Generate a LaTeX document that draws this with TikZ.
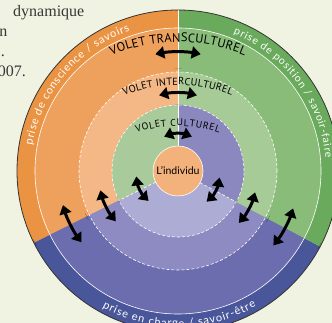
\documentclass[tikz,border=0pt]{standalone}
\usepackage{fontspec}
\setmainfont{Liberation Serif}
\newfontfamily\lato{Lato}
\newfontfamily\ptsans{PT Sans}
\usetikzlibrary{arrows.meta,decorations.text,calc}
\definecolor{bg}{RGB}{241,243,226}
\definecolor{bandO}{RGB}{234,147,67}
\definecolor{transO}{RGB}{238,161,93}
\definecolor{interO}{RGB}{243,184,134}
\definecolor{bandG}{RGB}{106,170,93}
\definecolor{transG}{RGB}{137,188,121}
\definecolor{interG}{RGB}{167,203,151}
\definecolor{cultG}{RGB}{169,202,155}
\definecolor{bandB}{RGB}{74,86,154}
\definecolor{transB}{RGB}{108,109,174}
\definecolor{interB}{RGB}{141,139,194}
\definecolor{cultP}{RGB}{139,136,191}
\definecolor{cultL}{RGB}{173,172,212}
\definecolor{indiv}{RGB}{243,178,124}
\definecolor{pagetext}{RGB}{55,55,55}
\newcommand\ringsector[4]{\fill[#1] (C) -- ($(C)+(#2:#4)$) arc[start angle=#2, end angle=#3, radius=#4] -- cycle;}
\tikzset{
  dblarrow/.style={line width=3pt, {Triangle[length=9pt,width=12pt]}-{Triangle[length=9pt,width=12pt]}},
  ringline/.style={white, line width=0.6pt},
  ringdash/.style={white, line width=0.6pt, dash pattern=on 3pt off 2pt},
  pagefont/.style={font=\fontsize{16}{18}\selectfont, text=pagetext, inner sep=0pt},
}
\begin{document}
\begin{tikzpicture}
\useasboundingbox (0,0) rectangle (332pt,323pt);
\fill[bg] (0,0) rectangle (332pt,323pt);
\coordinate (C) at (178pt,152pt);

% page text fragments
\node[pagefont, anchor=base west] (p1) at (13pt,306pt) {dynamique};
\node[pagefont, anchor=base east] (p2) at (7.5pt,286pt) {n};
\node[pagefont, anchor=base east] (p3) at (5pt,266pt) {.};
\node[pagefont, anchor=base east] (p4) at (26pt,246pt) {2007.};

% rings
\ringsector{bandO}{90}{206.5}{161pt}
\ringsector{bandB}{206.5}{332}{161pt}
\ringsector{bandG}{-28}{90}{161pt}
\ringsector{transO}{90}{206.5}{143pt}
\ringsector{transB}{206.5}{332}{143pt}
\ringsector{transG}{-28}{90}{143pt}
\ringsector{interO}{90}{206.5}{99pt}
\ringsector{interB}{206.5}{332}{99pt}
\ringsector{interG}{-28}{90}{99pt}
\ringsector{cultG}{90}{206.5}{66pt}
\ringsector{cultL}{206.5}{332}{66pt}
\ringsector{cultP}{-28}{90}{66pt}

\draw[black!80, line width=0.8pt] (C) circle[radius=161pt];
\draw[ringline] (C) circle[radius=143pt];
\draw[ringdash] (C) circle[radius=99pt];
\draw[ringdash] (C) circle[radius=66pt];

% dividers
\draw[ringline] ($(C)+(90:25pt)$) -- ($(C)+(90:161pt)$);
\draw[ringdash] ($(C)+(206.5:25pt)$) -- ($(C)+(206.5:66pt)$);
\draw[ringdash] ($(C)+(332:25pt)$) -- ($(C)+(332:66pt)$);

% small triangles on the dividers
\foreach \a in {90,206.5,332}
  \foreach \r [evaluate=\r as \rb using \r-7] in {66,102,160}
    \fill[black] ($(C)+(\a:\r pt)$) -- ($(C)+(\a:\rb pt)+(\a+90:3.5pt)$) -- ($(C)+(\a:\rb pt)+(\a-90:3.5pt)$) -- cycle;

% individual
\node[circle, fill=indiv, draw=white, line width=0.6pt, minimum size=50pt, inner sep=0pt,
      font=\lato\fontsize{10.5}{12}\selectfont] (ind) at (C) {L’individu};

% double arrows
\foreach \a/\r/\s in {90/119/22, 90/78/28, 90/37/44, 206.5/120/20, 206.5/80/25, 206.5/42/38, 332/121/20, 332/80/25, 332/42/38}
  \draw[dblarrow] ($(C)+({\a-\s/2}:\r pt)$) arc[start angle={\a-\s/2}, end angle={\a+\s/2}, radius=\r pt];

% volet titles
\path[decorate, decoration={text along path, text={|\ptsans\fontsize{12.5}{14}\selectfont|VOLET TRANSCULTUREL}, text align={fit to path}}]
  ($(178pt,111pt)+(113:170pt)$) arc[start angle=113, end angle=67, radius=170pt];
\path[decorate, decoration={text along path, text={|\ptsans\fontsize{10.3}{12}\selectfont|VOLET INTERCULTUREL}, text align={fit to path}}]
  ($(178pt,98pt)+(112.5:140pt)$) arc[start angle=112.5, end angle=67.5, radius=140pt];
\path[decorate, decoration={text along path, text={|\ptsans\fontsize{9.8}{12}\selectfont|VOLET CULTUREL}, text align={fit to path}}]
  ($(178pt,67pt)+(108.5:130pt)$) arc[start angle=108.5, end angle=71.5, radius=130pt];

% band labels
\path[decorate, decoration={text along path, text color=white, text={|\lato\fontsize{11}{13}\selectfont|prise de conscience / savoirs}, text align={fit to path}}]
  ($(C)+(170:148pt)$) arc[start angle=170, end angle=109, radius=148pt];
\path[decorate, decoration={text along path, text color=white, text={|\lato\fontsize{10.5}{13}\selectfont|prise de position / savoir-faire}, text align={fit to path}}]
  ($(C)+(68:148pt)$) arc[start angle=68, end angle=5, radius=148pt];
\path[decorate, decoration={text along path, text color=white, text={|\lato\fontsize{11}{13}\selectfont|prise en charge / savoir-être}, text align={fit to path}}]
  ($(C)+(241:156pt)$) arc[start angle=241, end angle=300, radius=156pt];
\end{tikzpicture}
\end{document}
